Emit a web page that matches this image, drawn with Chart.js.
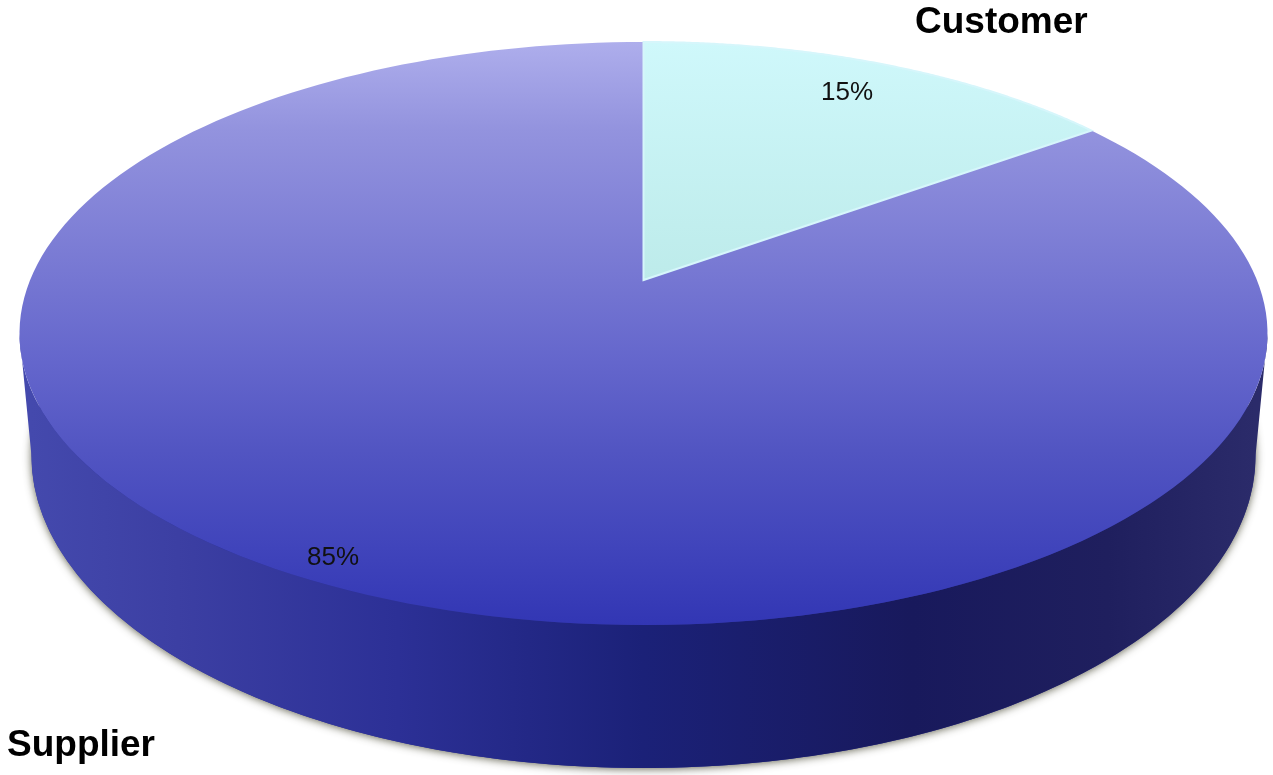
<!DOCTYPE html>
<html>
<head>
<meta charset="utf-8">
<title>Customer and Supplier share</title>
<script src="https://cdn.jsdelivr.net/npm/chart.js@4/dist/chart.umd.min.js"></script>
<style>
    html, body { margin: 0; padding: 0; background: #fff; overflow: hidden; }
    #wrap { width: 1273px; height: 775px; }
</style>
</head>
<body>
<div id="wrap"><canvas id="myChart" width="1273" height="775"></canvas></div>
<script>
// Chart data
var categories = ["Customer", "Supplier"];
var shares = [15, 85];
var shareLabels = ["15%", "85%"];

// Where the labels sit: [name x, name baseline, value x, value baseline]
var labelSpots = [
    [915, 33, 821, 100],
    [7, 756, 307, 565]
];

// Tilted disc: the pie centre lands on (centerX, centerY) and the circle is
// taken through a perspective division so the near edge looks larger
var centerX = 643.5;
var centerY = 280;
var scaleX = 613.4;
var scaleY = 230.3;
var tilt = -0.1835;

// Lower rim of the disc
var baseY = 456;
var baseA = 612;
var baseB = 312;

// Angle past the horizontal where the disc outline is widest
var wallInset = Math.asin(-tilt);

function project(angle, r) {
    var px = r * Math.cos(angle);
    var py = r * Math.sin(angle);
    var d = 1 + tilt * py;
    return { x: centerX + scaleX * px / d, y: (scaleY * py + centerY) / d };
}

// Upper rim angle to lower rim point, the visible wall spans the whole front half below
function baseRim(angle) {
    var t = (angle - wallInset) * Math.PI / (Math.PI - 2 * wallInset);
    return { x: centerX + baseA * Math.cos(t), y: baseY + baseB * Math.sin(t) };
}

function stops(gradient, list) {
    list.forEach(function (s) {
        gradient.addColorStop(s[0], s[1]);
    });
    return gradient;
}

function faceFill(ctx, index) {
    if (index === 0) {
        return stops(ctx.createLinearGradient(0, 42, 0, 280), [[0, "#cff8fb"], [1, "#bdebea"]]);
    }
    return stops(ctx.createLinearGradient(0, 42, 0, 625), [
        [0, "#aeaeec"], [0.15, "#9393de"], [0.41, "#7576d2"], [0.55, "#6466cc"],
        [0.7, "#5255c2"], [0.87, "#4044bb"], [1, "#3236b4"]
    ]);
}

function wallFill(ctx) {
    return stops(ctx.createLinearGradient(31, 0, 1255, 0), [
        [0, "#4449ad"], [0.12, "#3c3fa3"], [0.3, "#2c3096"], [0.5, "#1b2178"],
        [0.72, "#18195c"], [0.88, "#1f1f5e"], [1, "#2b2b6a"]
    ]);
}

function traceFace(ctx, start, end) {
    var p = project(start, 0);
    ctx.beginPath();
    ctx.moveTo(p.x, p.y);
    for (var i = 0; i <= 180; i++) {
        p = project(start + (end - start) * i / 180, 1);
        ctx.lineTo(p.x, p.y);
    }
    ctx.closePath();
}

// Soft ground shadow from the lower rim
function drawGround(ctx) {
    ctx.save();
    ctx.shadowColor = "rgba(70, 70, 50, 0.85)";
    ctx.shadowBlur = 9;
    ctx.shadowOffsetY = 1;
    ctx.fillStyle = "#2c3096";
    ctx.beginPath();
    ctx.ellipse(centerX, baseY, baseA, baseB, 0, 0, Math.PI * 2);
    ctx.fill();
    ctx.restore();
}

// Side wall of a slice, only the part that faces the viewer
function drawWall(ctx, start, end) {
    var twoPi = Math.PI * 2;
    var from = wallInset;
    var to = Math.PI - wallInset;
    // arc angles run from -PI/2, bring the front range into the same turn
    while (from < start) {
        from += twoPi;
        to += twoPi;
    }
    var a = Math.max(from, start);
    var b = Math.min(to, end);
    if (b <= a) {
        return;
    }
    var p;
    ctx.beginPath();
    for (var i = 0; i <= 180; i++) {
        p = project(a + (b - a) * i / 180, 1);
        ctx.lineTo(p.x, p.y);
    }
    for (var j = 180; j >= 0; j--) {
        p = baseRim(a + (b - a) * j / 180);
        ctx.lineTo(p.x, p.y);
    }
    ctx.closePath();
    ctx.fillStyle = wallFill(ctx);
    ctx.fill();
}

var disc3d = {
    id: "disc3d",
    beforeDatasetDraw: function (chart, args) {
        var ctx = chart.ctx;
        var arcs = chart.getDatasetMeta(args.index).data;

        drawGround(ctx);
        arcs.forEach(function (arc) {
            drawWall(ctx, arc.startAngle, arc.endAngle);
        });

        // supplier first so the lighter wedge edge stays on top
        for (var i = arcs.length - 1; i >= 0; i--) {
            traceFace(ctx, arcs[i].startAngle, arcs[i].endAngle);
            ctx.fillStyle = faceFill(ctx, i);
            ctx.fill();
            if (i === 0) {
                ctx.strokeStyle = "#d6f6fb";
                ctx.lineWidth = 2;
                ctx.lineJoin = "miter";
                ctx.stroke();
            }
        }
        return false;
    },
    afterDraw: function (chart) {
        var ctx = chart.ctx;
        ctx.save();
        ctx.fillStyle = "#000";
        ctx.textAlign = "left";
        ctx.textBaseline = "alphabetic";
        categories.forEach(function (name, i) {
            ctx.font = "bold 37px 'Liberation Sans', Arial, sans-serif";
            ctx.fillText(name, labelSpots[i][0], labelSpots[i][1]);
            ctx.font = "26px 'Liberation Sans', Arial, sans-serif";
            ctx.fillStyle = "#111";
            ctx.fillText(shareLabels[i], labelSpots[i][2], labelSpots[i][3]);
            ctx.fillStyle = "#000";
        });
        ctx.restore();
    }
};

const ctx = document.getElementById("myChart");
var myChart = new Chart(ctx, {
    type: "pie",
    data: {
        labels: categories,
        datasets: [{
            data: shares,
            backgroundColor: ["#c6f2f3", "#5a5cc4"],
            borderWidth: 0
        }]
    },
    options: {
        responsive: false,
        animation: false,
        events: [],
        plugins: {
            legend: { display: false },
            tooltip: { enabled: false }
        }
    },
    plugins: [disc3d]
});
</script>
</body>
</html>
